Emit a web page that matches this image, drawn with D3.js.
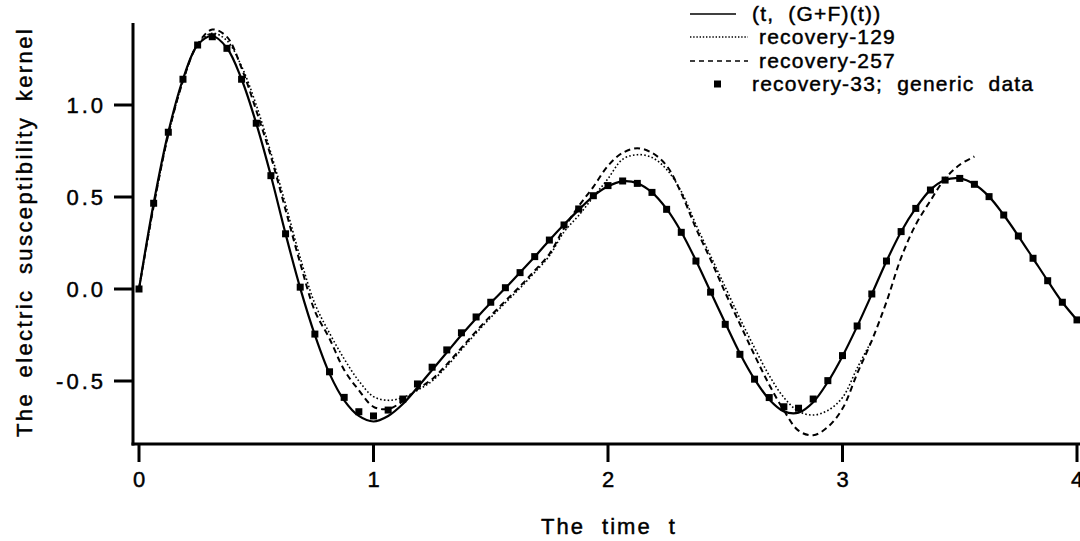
<!DOCTYPE html>
<html>
<head>
<meta charset="utf-8">
<script src="https://cdnjs.cloudflare.com/ajax/libs/d3/7.8.5/d3.min.js"></script>
<style>
  html, body { margin: 0; padding: 0; background: #fff; }
  text { font-family: "Liberation Sans", Arial, Helvetica, sans-serif; fill: #000; stroke: #000; stroke-width: 0.45px; }
</style>
</head>
<body>
<svg id="chart" width="1080" height="541"></svg>
<script>
// t grid shared by the curves (step 1/16)
const tGrid = d3.range(0, 65).map(k => k / 16)

// (t, (G+F)(t)) - the exact kernel
const exactValues = [
  0, 0.466, 0.852, 1.14, 1.326, 1.375, 1.31, 1.14, 0.9, 0.615, 0.3, 0.005, -0.25, -0.46, -0.605, -0.69,
  -0.72, -0.69, -0.625, -0.535, -0.44, -0.345, -0.25, -0.16, -0.075, 0.005, 0.09, 0.175, 0.265, 0.35, 0.43, 0.505,
  0.558, 0.585, 0.575, 0.525, 0.435, 0.31, 0.155, -0.015, -0.185, -0.35, -0.49, -0.6, -0.665, -0.672, -0.615, -0.505,
  -0.365, -0.203, -0.028, 0.151, 0.311, 0.439, 0.539, 0.592, 0.601, 0.569, 0.502, 0.402, 0.288, 0.167, 0.045, -0.072,
  -0.168
]

// recovery-33; generic data (squares)
const rec33Values = [
  0, 0.466, 0.852, 1.14, 1.326, 1.371, 1.308, 1.14, 0.901, 0.616, 0.3, 0.01, -0.245, -0.45, -0.589, -0.667,
  -0.69, -0.658, -0.598, -0.516, -0.425, -0.331, -0.238, -0.152, -0.072, 0.007, 0.089, 0.176, 0.266, 0.348, 0.435, 0.507,
  0.562, 0.587, 0.574, 0.525, 0.433, 0.308, 0.152, -0.017, -0.192, -0.355, -0.49, -0.59, -0.64, -0.648, -0.598, -0.498,
  -0.362, -0.201, -0.027, 0.152, 0.312, 0.438, 0.538, 0.592, 0.601, 0.569, 0.502, 0.402, 0.288, 0.167, 0.045, -0.072,
  -0.168
]

// recovery-129 (dotted), ends where it joins recovery-257
const rec129Values = [
  0, 0.45, 0.84, 1.13, 1.33, 1.39, 1.35, 1.21, 1.0, 0.74, 0.46, 0.17, -0.08, -0.24, -0.38, -0.5,
  -0.585, -0.605, -0.59, -0.55, -0.5, -0.42, -0.33, -0.24, -0.155, -0.075, 0.005, 0.09, 0.18, 0.31, 0.4, 0.5,
  0.6, 0.705, 0.73, 0.715, 0.65, 0.53, 0.35, 0.18, 0.01, -0.16, -0.32, -0.47, -0.59, -0.665, -0.685, -0.66,
  -0.59, -0.43, -0.28
]

// recovery-257 (dashed)
const rec257Values = [
  0, 0.45, 0.84, 1.13, 1.33, 1.41, 1.37, 1.2, 0.97, 0.72, 0.43, 0.14, -0.12, -0.27, -0.44, -0.55,
  -0.64, -0.652, -0.61, -0.545, -0.49, -0.41, -0.32, -0.23, -0.145, -0.065, 0.015, 0.1, 0.19, 0.33, 0.45, 0.555,
  0.67, 0.74, 0.765, 0.74, 0.67, 0.52, 0.33, 0.16, -0.02, -0.19, -0.36, -0.52, -0.66, -0.77, -0.795, -0.75,
  -0.65, -0.46, -0.28, -0.07, 0.17, 0.35, 0.48, 0.6, 0.675, 0.72
]

const xTicks = [0, 1, 2, 3, 4]
const yTicks = [-0.5, 0.0, 0.5, 1.0]
const yTickLabels = ["-0.5", "0.0", "0.5", "1.0"]

const legendLabels = ["(t,  (G+F)(t))", " recovery-129", " recovery-257", "recovery-33;  generic  data"]

const svg = d3.select("#chart")

const x = d3.scaleLinear().domain([0, 4]).range([139, 1077])
const y = d3.scaleLinear().domain([0, 1]).range([289, 105])

const axisLeft = 133, axisBottom = 444, axisTop = 23

const toPoints = vals => vals.map((v, i) => [tGrid[i], v])

const line = d3.line()
  .x(d => x(d[0]))
  .y(d => y(d[1]))
  .curve(d3.curveCatmullRom.alpha(0.5))

// curves
svg.append("path")
  .attr("d", line(toPoints(rec129Values)))
  .attr("fill", "none")
  .attr("stroke", "#000")
  .attr("stroke-width", 1.6)
  .attr("stroke-dasharray", "1.6,2.2")

svg.append("path")
  .attr("d", line(toPoints(rec257Values)))
  .attr("fill", "none")
  .attr("stroke", "#000")
  .attr("stroke-width", 2)
  .attr("stroke-dasharray", "6,4")

svg.append("path")
  .attr("d", line(toPoints(exactValues)))
  .attr("fill", "none")
  .attr("stroke", "#000")
  .attr("stroke-width", 2.2)

svg.append("g").selectAll("rect")
  .data(toPoints(rec33Values))
  .join("rect")
  .attr("x", d => x(d[0]) - 3.5)
  .attr("y", d => y(d[1]) - 3.5)
  .attr("width", 7)
  .attr("height", 7)
  .attr("fill", "#000")

// axes
svg.append("line")
  .attr("x1", axisLeft).attr("x2", axisLeft)
  .attr("y1", axisTop).attr("y2", axisBottom + 1.5)
  .attr("stroke", "#000").attr("stroke-width", 3)

svg.append("line")
  .attr("x1", axisLeft - 1.5).attr("x2", 1080)
  .attr("y1", axisBottom).attr("y2", axisBottom)
  .attr("stroke", "#000").attr("stroke-width", 3)

const xt = svg.append("g").selectAll("g").data(xTicks).join("g")
  .attr("transform", d => `translate(${x(d)},0)`)
xt.append("line")
  .attr("y1", axisBottom).attr("y2", axisBottom + 18)
  .attr("stroke", "#000").attr("stroke-width", 3)
xt.append("text")
  .attr("y", 487)
  .attr("text-anchor", "middle")
  .attr("font-size", 22)
  .text(d => d)

const yt = svg.append("g").selectAll("g").data(yTicks).join("g")
  .attr("transform", d => `translate(0,${y(d)})`)
yt.append("line")
  .attr("x1", axisLeft - 19).attr("x2", axisLeft)
  .attr("stroke", "#000").attr("stroke-width", 3)
yt.append("text")
  .attr("x", 106)
  .attr("y", 8)
  .attr("text-anchor", "end")
  .attr("font-size", 22)
  .attr("letter-spacing", 3)
  .text((d, i) => yTickLabels[i])

// axis titles
svg.append("text")
  .attr("x", 609)
  .attr("y", 534)
  .attr("text-anchor", "middle")
  .attr("font-size", 22)
  .attr("letter-spacing", 2)
  .attr("word-spacing", 9)
  .text("The time t")

svg.append("text")
  .attr("transform", "translate(32,232) rotate(-90)")
  .attr("text-anchor", "middle")
  .attr("font-size", 22)
  .attr("letter-spacing", 2.4)
  .attr("word-spacing", 6)
  .text("The electric susceptibility kernel")

// legend
const legendRows = [14, 37, 61, 84]
const lg = svg.append("g")

lg.append("line").attr("x1", 690).attr("x2", 736).attr("y1", legendRows[0]).attr("y2", legendRows[0])
  .attr("stroke", "#000").attr("stroke-width", 1.6)
lg.append("line").attr("x1", 690).attr("x2", 748).attr("y1", legendRows[1]).attr("y2", legendRows[1])
  .attr("stroke", "#000").attr("stroke-width", 1.4).attr("stroke-dasharray", "1.4,1.8")
lg.append("line").attr("x1", 690).attr("x2", 748).attr("y1", legendRows[2]).attr("y2", legendRows[2])
  .attr("stroke", "#000").attr("stroke-width", 1.6).attr("stroke-dasharray", "5,4")
lg.append("rect").attr("x", 714).attr("y", legendRows[3] - 3.5).attr("width", 7).attr("height", 7)
  .attr("fill", "#000")

lg.selectAll("text").data(legendLabels).join("text")
  .attr("x", 752)
  .attr("y", (d, i) => legendRows[i] + 7)
  .attr("font-size", 21)
  .attr("letter-spacing", 1.2)
  .style("white-space", "pre")
  .text(d => d)
</script>
</body>
</html>
